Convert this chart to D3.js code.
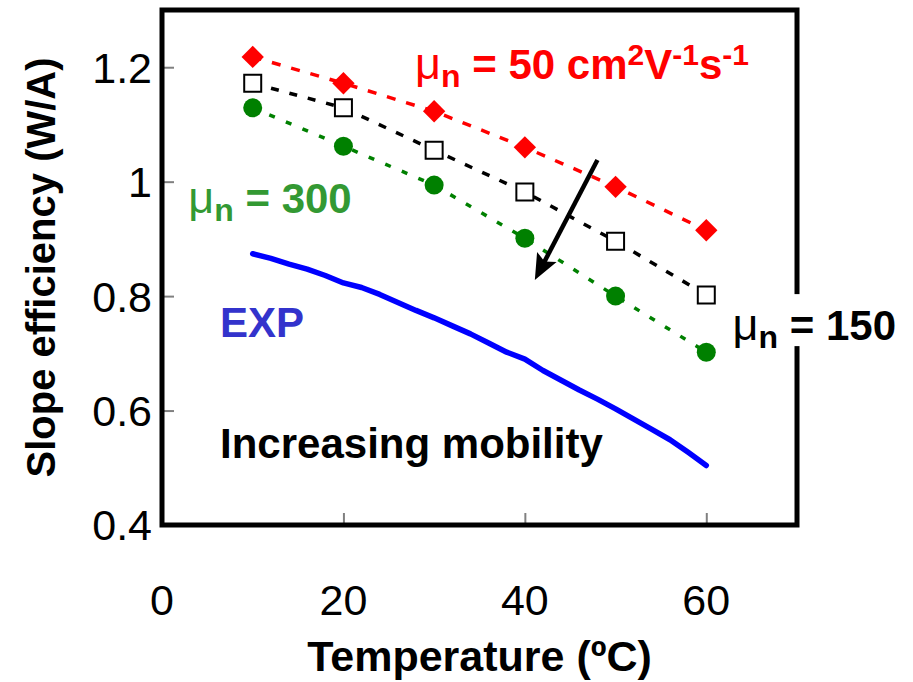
<!DOCTYPE html>
<html>
<head>
<meta charset="utf-8">
<script src="https://cdn.jsdelivr.net/npm/d3@7"></script>
<style>
  html, body { margin: 0; padding: 0; background: #fff; }
  svg { display: block; font-family: "Liberation Sans", Arial, sans-serif; }
</style>
</head>
<body>
<svg id="chart" width="913" height="682"></svg>
<script>
// Simulated slope efficiency vs temperature for three electron mobilities
const temps = [10, 20, 30, 40, 50, 60];
const mu50 = [1.218, 1.172, 1.123, 1.060, 0.991, 0.915];
const mu150 = [1.172, 1.129, 1.055, 0.982, 0.896, 0.802];
const mu300 = [1.129, 1.062, 0.994, 0.901, 0.800, 0.702];

// Measured curve (EXP)
const expTemps = [10, 12, 14, 16, 18, 20, 22, 24, 26, 28, 30, 32, 34, 36, 38, 40, 42, 44, 46, 48, 50, 52, 54, 56, 58, 60];
const expVals = [0.874, 0.866, 0.856, 0.847, 0.836, 0.823, 0.815, 0.803, 0.789, 0.775, 0.762, 0.748, 0.734, 0.718, 0.702, 0.690, 0.670, 0.653, 0.636, 0.620, 0.603, 0.585, 0.567, 0.549, 0.527, 0.504];

const xTicks = [0, 20, 40, 60];
const yTicks = [0.4, 0.6, 0.8, 1.0, 1.2];

const svg = d3.select("#chart");
const L = 162, T = 10, R = 797, B = 525;

const x = d3.scaleLinear().domain([0, 70]).range([L, R]);
const y = d3.scaleLinear().domain([0.4, 1.3]).range([B, T]);

// Inner tick marks
const yAxis = d3.axisRight(y).tickValues(yTicks.filter(v => v > 0.4)).tickSize(12).tickFormat("");
svg.append("g").attr("transform", `translate(${L},0)`).call(yAxis)
  .call(g => g.select(".domain").remove())
  .call(g => g.selectAll("line").attr("stroke", "#808080").attr("stroke-width", 2));

const xAxis = d3.axisTop(x).tickValues(xTicks.filter(v => v > 0)).tickSize(12).tickFormat("");
svg.append("g").attr("transform", `translate(0,${B})`).call(xAxis)
  .call(g => g.select(".domain").remove())
  .call(g => g.selectAll("line").attr("stroke", "#808080").attr("stroke-width", 2));

// Tick labels
svg.append("g").selectAll("text").data(yTicks).join("text")
  .attr("x", L - 10).attr("y", d => y(d))
  .attr("dy", "0.36em")
  .attr("text-anchor", "end")
  .attr("font-size", 43)
  .text(d => d === 1 ? "1" : d3.format(".1f")(d));

svg.append("g").selectAll("text").data(xTicks).join("text")
  .attr("x", d => x(d)).attr("y", 615)
  .attr("text-anchor", "middle")
  .attr("font-size", 43)
  .text(d => d);

// Axis titles
svg.append("text")
  .attr("x", (L + R) / 2).attr("y", 671)
  .attr("text-anchor", "middle")
  .attr("font-size", 43).attr("font-weight", "bold")
  .text("Temperature (ºC)");

svg.append("text")
  .attr("transform", `translate(55,${(T + B) / 2}) rotate(-90)`)
  .attr("text-anchor", "middle")
  .attr("font-size", 40).attr("font-weight", "bold")
  .text("Slope efficiency (W/A)");

// Series
const line = d3.line().x(d => x(d[0])).y(d => y(d[1]));
const series = [
  { vals: mu50, color: "#ff0000", dash: "9,11", shape: "diamond" },
  { vals: mu150, color: "#000000", dash: "8,11", shape: "square" },
  { vals: mu300, color: "#008000", dash: "6,12", shape: "circle" }
];

series.forEach(s => {
  svg.append("path")
    .datum(temps.map((t, i) => [t, s.vals[i]]))
    .attr("d", line)
    .attr("fill", "none")
    .attr("stroke", s.color)
    .attr("stroke-width", 3.5)
    .attr("stroke-dasharray", s.dash);
});

// EXP curve
svg.append("path")
  .datum(expTemps.map((t, i) => [t, expVals[i]]))
  .attr("d", line)
  .attr("fill", "none")
  .attr("stroke", "#0000ff")
  .attr("stroke-width", 5.5)
  .attr("stroke-linejoin", "round")
  .attr("stroke-linecap", "round");

// Markers
series.forEach(s => {
  const g = svg.append("g");
  const pts = temps.map((t, i) => [t, s.vals[i]]);
  if (s.shape === "diamond") {
    g.selectAll("path").data(pts).join("path")
      .attr("d", d3.symbol(d3.symbolSquare, 250)())
      .attr("transform", d => `translate(${x(d[0])},${y(d[1])}) rotate(45)`)
      .attr("fill", s.color);
  } else if (s.shape === "square") {
    g.selectAll("path").data(pts).join("path")
      .attr("d", d3.symbol(d3.symbolSquare, 289)())
      .attr("transform", d => `translate(${x(d[0])},${y(d[1])})`)
      .attr("fill", "#fff").attr("stroke", "#000").attr("stroke-width", 2);
  } else {
    g.selectAll("circle").data(pts).join("circle")
      .attr("cx", d => x(d[0])).attr("cy", d => y(d[1])).attr("r", 9.5)
      .attr("fill", s.color);
  }
});

// Arrow: direction of increasing mobility
const arrowFrom = [48, 1.038], arrowTo = [41.1, 0.828];
const ax1 = x(arrowFrom[0]), ay1 = y(arrowFrom[1]);
const ax2 = x(arrowTo[0]), ay2 = y(arrowTo[1]);
const ang = Math.atan2(ay2 - ay1, ax2 - ax1);
const headLen = 26, headHalf = 11;
const bx = ax2 - headLen * Math.cos(ang), by = ay2 - headLen * Math.sin(ang);
svg.append("line")
  .attr("x1", ax1).attr("y1", ay1)
  .attr("x2", ax2 - (headLen - 6) * Math.cos(ang)).attr("y2", ay2 - (headLen - 6) * Math.sin(ang))
  .attr("stroke", "#000").attr("stroke-width", 4.5);
svg.append("path")
  .attr("d", d3.line()([
    [ax2, ay2],
    [bx - headHalf * Math.sin(ang), by + headHalf * Math.cos(ang)],
    [ax2 - (headLen - 5) * Math.cos(ang), ay2 - (headLen - 5) * Math.sin(ang)],
    [bx + headHalf * Math.sin(ang), by - headHalf * Math.cos(ang)]
  ]) + "Z")
  .attr("fill", "#000");

// Plot frame
svg.append("rect")
  .attr("x", L).attr("y", T).attr("width", R - L).attr("height", B - T)
  .attr("fill", "none").attr("stroke", "#000").attr("stroke-width", 5);

// Annotation helper: mu with subscript n followed by bold text
function muLabel(px, py, color, rest) {
  const t = svg.append("text")
    .attr("x", px).attr("y", py)
    .attr("fill", color).attr("font-size", 42).attr("font-weight", "bold");
  t.append("tspan").attr("font-weight", "normal").attr("font-size", 45).text("μ");
  t.append("tspan").attr("font-size", 32).attr("dy", 8).text("n");
  t.append("tspan").attr("dy", -8).text(" " + rest);
  return t;
}

// μn = 50 cm²V⁻¹s⁻¹
const t50 = muLabel(x(27.9), y(1.179), "#ff0000", "= 50 cm");
t50.append("tspan").attr("font-size", 30).attr("dy", -14).text("2");
t50.append("tspan").attr("dy", 14).text("V");
t50.append("tspan").attr("font-size", 30).attr("dy", -14).text("-1");
t50.append("tspan").attr("dy", 14).text("s");
t50.append("tspan").attr("font-size", 30).attr("dy", -14).text("-1");

// μn = 300
muLabel(x(2.9), y(0.945), "#339933", "= 300");

// μn = 150 with white backing over the frame
svg.append("rect")
  .attr("x", 727).attr("y", y(0.800) - 2).attr("width", 180).attr("height", 52)
  .attr("fill", "#fff");
muLabel(x(62.9), y(0.723), "#000", "= 150");

// EXP label
svg.append("text")
  .attr("x", x(6.4)).attr("y", y(0.728))
  .attr("fill", "#3333cc").attr("font-size", 42).attr("font-weight", "bold")
  .text("EXP");

svg.append("text")
  .attr("x", x(6.4)).attr("y", y(0.517))
  .attr("fill", "#000").attr("font-size", 42).attr("font-weight", "bold")
  .text("Increasing mobility");
</script>
</body>
</html>
